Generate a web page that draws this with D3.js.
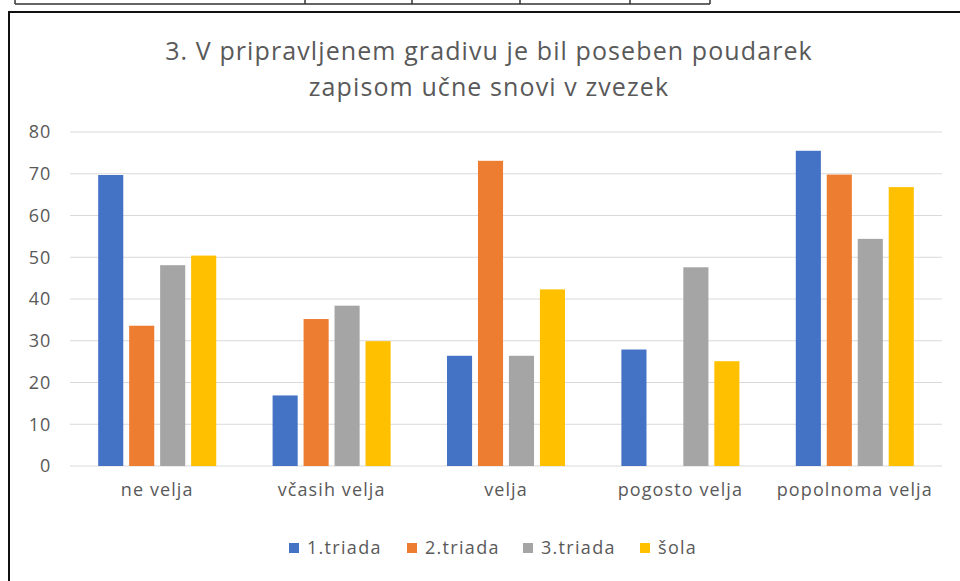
<!DOCTYPE html>
<html>
<head>
<meta charset="utf-8">
<script src="https://cdn.jsdelivr.net/npm/d3@7"></script>
<style>
  body { margin: 0; background: #fff; }
  svg { display: block; font-family: "Open Sans", sans-serif; }
</style>
</head>
<body>
<svg id="chart" width="960" height="581"></svg>
<script>
// data
const categories = ["ne velja", "včasih velja", "velja", "pogosto velja", "popolnoma velja"];
const seriesNames = ["1.triada", "2.triada", "3.triada", "šola"];
const triada1 = [69.7, 16.9, 26.4, 27.9, 75.5];
const triada2 = [33.6, 35.2, 73.1, 0, 69.8];
const triada3 = [48.1, 38.4, 26.4, 47.6, 54.4];
const sola = [50.4, 29.9, 42.3, 25.1, 66.8];
const yTicks = [0, 10, 20, 30, 40, 50, 60, 70, 80];
const titleLines = ["3. V pripravljenem gradivu je bil poseben poudarek", "zapisom učne snovi v zvezek"];

const colors = ["#4472C4", "#ED7D31", "#A5A5A5", "#FFC000"];
const values = [triada1, triada2, triada3, sola];
const textColor = "#595959";

const svg = d3.select("#chart");

// bit of the table above the chart
const tableLines = [15, 305, 412, 520, 630, 710];
svg.append("line")
  .attr("x1", 15).attr("x2", 710).attr("y1", 4).attr("y2", 4)
  .attr("stroke", "#333").attr("stroke-width", 1.5);
svg.selectAll(".tl").data(tableLines).enter().append("line")
  .attr("x1", d => d).attr("x2", d => d).attr("y1", 0).attr("y2", 4)
  .attr("stroke", "#333").attr("stroke-width", 1.5);

// chart frame
svg.append("path")
  .attr("d", "M9,581 V12 H960")
  .attr("fill", "none").attr("stroke", "#111").attr("stroke-width", 2);

// title
svg.append("g").selectAll("text").data(titleLines).enter().append("text")
  .attr("x", 489).attr("y", (d, i) => 60 + i * 36)
  .attr("text-anchor", "middle")
  .attr("font-size", 25).attr("letter-spacing", 1.1)
  .attr("fill", textColor)
  .text(d => d);

const margin = { left: 70, right: 942, top: 132, bottom: 466 };

const y = d3.scaleLinear().domain([0, 80]).range([margin.bottom, margin.top]);
const x0 = d3.scaleBand().domain(categories).range([margin.left, margin.right]);
const x1 = d3.scaleBand().domain(seriesNames).range([0, x0.bandwidth()])
  .paddingInner(0.19).paddingOuter(0.91);

// gridlines
svg.append("g").selectAll("line").data(yTicks).enter().append("line")
  .attr("x1", margin.left).attr("x2", margin.right)
  .attr("y1", d => y(d)).attr("y2", d => y(d))
  .attr("stroke", "#d9d9d9").attr("stroke-width", 1.2);

// y axis
const yAxis = svg.append("g")
  .attr("transform", "translate(51,0)")
  .call(d3.axisLeft(y).tickValues(yTicks).tickSize(0).tickPadding(0));
yAxis.select(".domain").remove();
yAxis.selectAll("text")
  .attr("font-family", "Open Sans, sans-serif")
  .attr("font-size", 18).attr("letter-spacing", 0.8)
  .attr("fill", textColor);

// x axis labels
const xAxis = svg.append("g")
  .attr("transform", "translate(0," + margin.bottom + ")")
  .call(d3.axisBottom(x0).tickSize(0).tickPadding(17));
xAxis.select(".domain").remove();
xAxis.selectAll("text")
  .attr("font-family", "Open Sans, sans-serif")
  .attr("font-size", 18).attr("letter-spacing", 1.1)
  .attr("fill", textColor);

// bars
const rows = [];
categories.forEach((c, ci) => {
  seriesNames.forEach((s, si) => {
    rows.push({ cat: c, series: s, value: values[si][ci], color: colors[si] });
  });
});

svg.append("g").selectAll("rect").data(rows).enter().append("rect")
  .attr("x", d => x0(d.cat) + x1(d.series))
  .attr("y", d => y(d.value))
  .attr("width", x1.bandwidth())
  .attr("height", d => y(0) - y(d.value))
  .attr("fill", d => d.color);

// legend
const legendX = [289, 407, 523, 640];
const legend = svg.append("g").selectAll("g").data(seriesNames).enter().append("g")
  .attr("transform", (d, i) => "translate(" + legendX[i] + ",548)");
legend.append("rect")
  .attr("x", 0).attr("y", -5).attr("width", 10).attr("height", 10)
  .attr("fill", (d, i) => colors[i]);
legend.append("text")
  .attr("x", 18).attr("y", 6)
  .attr("font-size", 18).attr("letter-spacing", 1.3)
  .attr("fill", textColor)
  .text(d => d);
</script>
</body>
</html>
